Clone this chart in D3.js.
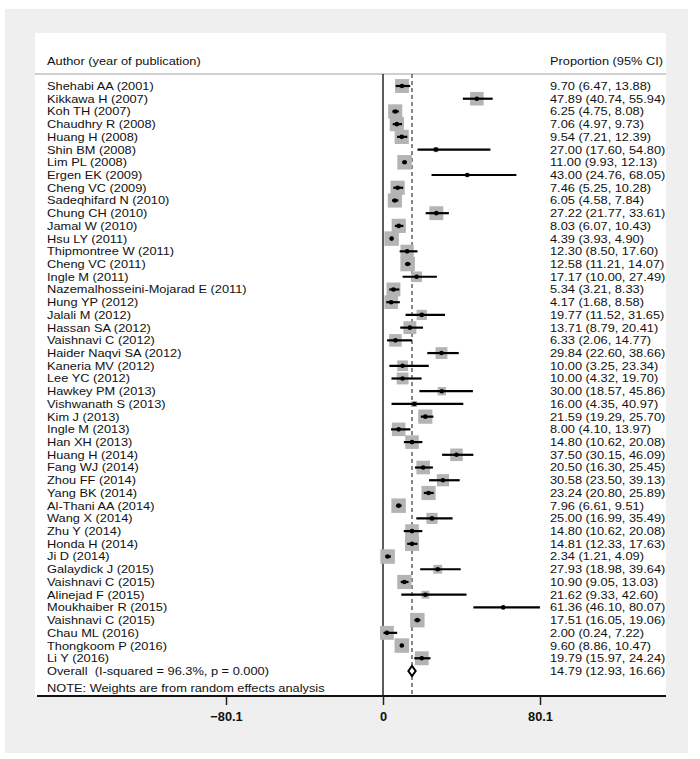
<!DOCTYPE html>
<html><head><meta charset="utf-8">
<script src="https://cdn.jsdelivr.net/npm/d3@7/dist/d3.min.js"></script>
<style>
html,body{margin:0;padding:0;background:#fff;}
svg{display:block;font-family:"Liberation Sans",Arial,Helvetica,sans-serif;}
text{white-space:pre;}
</style></head>
<body>
<svg id="chart" width="700" height="759"></svg>
<script>
const studies = ["Shehabi AA (2001)","Kikkawa H (2007)","Koh TH (2007)","Chaudhry R (2008)","Huang H (2008)","Shin BM (2008)","Lim PL (2008)","Ergen EK (2009)","Cheng VC (2009)","Sadeqhifard N (2010)","Chung CH (2010)","Jamal W (2010)","Hsu LY (2011)","Thipmontree W (2011)","Cheng VC (2011)","Ingle M (2011)","Nazemalhosseini-Mojarad E (2011)","Hung YP (2012)","Jalali M (2012)","Hassan SA (2012)","Vaishnavi C (2012)","Haider Naqvi SA (2012)","Kaneria MV (2012)","Lee YC (2012)","Hawkey PM (2013)","Vishwanath S (2013)","Kim J (2013)","Ingle M (2013)","Han XH (2013)","Huang H (2014)","Fang WJ (2014)","Zhou FF (2014)","Yang BK (2014)","Al-Thani AA (2014)","Wang X (2014)","Zhu Y (2014)","Honda H (2014)","Ji D (2014)","Galaydick J (2015)","Vaishnavi C (2015)","Alinejad F (2015)","Moukhaiber R (2015)","Vaishnavi C (2015)","Chau ML (2016)","Thongkoom P (2016)","Li Y (2016)"];
const estimate = [9.70,47.89,6.25,7.06,9.54,27.00,11.00,43.00,7.46,6.05,27.22,8.03,4.39,12.30,12.58,17.17,5.34,4.17,19.77,13.71,6.33,29.84,10.00,10.00,30.00,16.00,21.59,8.00,14.80,37.50,20.50,30.58,23.24,7.96,25.00,14.80,14.81,2.34,27.93,10.90,21.62,61.36,17.51,2.00,9.60,19.79];
const lower = [6.47,40.74,4.75,4.97,7.21,17.60,9.93,24.76,5.25,4.58,21.77,6.07,3.93,8.50,11.21,10.00,3.21,1.68,11.52,8.79,2.06,22.60,3.25,4.32,18.57,4.35,19.29,4.10,10.62,30.15,16.30,23.50,20.80,6.61,16.99,10.62,12.33,1.21,18.98,9.05,9.33,46.10,16.05,0.24,8.86,15.97];
const upper = [13.88,55.94,8.08,9.73,12.39,54.80,12.13,68.05,10.28,7.84,33.61,10.43,4.90,17.60,14.07,27.49,8.33,8.58,31.65,20.41,14.77,38.66,23.34,19.70,45.86,40.97,25.70,13.97,20.08,46.09,25.45,39.13,25.89,9.51,35.49,20.08,17.63,4.09,39.64,13.03,42.60,80.07,19.06,7.22,10.47,24.24];
// estimated random-effects weights (%)
const weights = [2.2,2.1,2.3,2.3,2.3,0.3,2.4,0.2,2.3,2.3,2.2,2.3,2.4,2.0,2.4,1.3,2.2,2.1,1.2,1.9,1.8,1.6,1.3,1.6,0.8,0.4,2.3,2.1,2.1,1.8,2.1,1.7,2.3,2.4,1.4,2.1,2.3,2.4,0.9,2.3,0.7,0.1,2.4,2.2,2.4,2.2];
const overallLabel = "Overall  (I-squared = 96.3%, p = 0.000)";
const overall = {est:14.79, lo:12.93, hi:16.66};
const tickValues = [-80.1, 0, 80.1];
const noteText = "NOTE: Weights are from random effects analysis";
const headerLeft = "Author (year of publication)";
const headerRight = "Proportion (95% CI)";

const fmt = d3.format(".2f");
const svg = d3.select("#chart");
const FS = 11.3;          // font size (px) fitting the row pitch
const STRETCH = 12.8/11.3; // horizontal widening to match reference text widths

function stretch(sel){
  sel.each(function(){
    const w = this.getComputedTextLength();
    this.setAttribute("textLength", (w*STRETCH).toFixed(2));
    this.setAttribute("lengthAdjust","spacingAndGlyphs");
  });
}

// panels
svg.append("rect").attr("x",5).attr("y",9).attr("width",683).attr("height",744).attr("fill","#efefef");
svg.append("rect").attr("x",35).attr("y",33).attr("width",631).attr("height",663).attr("fill","#fff");

const rows = studies.map((s,i)=>"r"+i).concat(["overall"]);
const y = d3.scalePoint().domain(rows).range([86, 671]);
const x = d3.scaleLinear().domain([-80.1, 80.1]).range([226, 540]);
const side = d3.scaleSqrt().domain([0, 2.4]).range([0, 14.5]);

const yTop = 74, yBottom = 696;

function label(xp, yp, txt){
  return svg.append("text").attr("x",xp).attr("y",yp).attr("dy","0.35em")
    .attr("font-size",FS+"px").attr("fill","#111").text(txt).call(stretch);
}

// header
label(47, 61, headerLeft);
label(550, 61, headerRight);
svg.append("line").attr("x1",35).attr("x2",666).attr("y1",yTop).attr("y2",yTop).attr("stroke","#cfcfcf").attr("stroke-width",2);

// reference lines
svg.append("line").attr("x1",x(0)).attr("x2",x(0)).attr("y1",yTop).attr("y2",yBottom).attr("stroke","#333").attr("stroke-width",1.6);
svg.append("line").attr("x1",x(overall.est)).attr("x2",x(overall.est)).attr("y1",yTop).attr("y2",yBottom)
  .attr("stroke","#555").attr("stroke-width",1.4).attr("stroke-dasharray","4,3");

const data = studies.map((s,i)=>({name:s, est:estimate[i], lo:lower[i], hi:upper[i], w:weights[i], key:"r"+i}));

const g = svg.append("g");
const row = g.selectAll("g.row").data(data).join("g").attr("class","row");
row.append("rect")
  .attr("x",d=>x(d.est)-side(d.w)/2).attr("y",d=>y(d.key)-side(d.w)/2)
  .attr("width",d=>side(d.w)).attr("height",d=>side(d.w)).attr("fill","#b4b4b4");
row.append("line").attr("x1",d=>x(d.lo)).attr("x2",d=>x(d.hi)).attr("y1",d=>y(d.key)).attr("y2",d=>y(d.key))
  .attr("stroke","#000").attr("stroke-width",2.2);
row.append("circle").attr("cx",d=>x(d.est)).attr("cy",d=>y(d.key)).attr("r",2.3).attr("fill","#000");
row.append("text").attr("x",47).attr("y",d=>y(d.key)).attr("dy","0.35em").attr("font-size",FS+"px").attr("fill","#111")
  .text(d=>d.name).call(stretch);
row.append("text").attr("x",550).attr("y",d=>y(d.key)).attr("dy","0.35em").attr("font-size",FS+"px").attr("fill","#111")
  .text(d=>`${fmt(d.est)} (${fmt(d.lo)}, ${fmt(d.hi)})`).call(stretch);

// overall
const oy = y("overall");
svg.append("path")
  .attr("d",`M${x(overall.lo)},${oy} L${x(overall.est)},${oy-5} L${x(overall.hi)},${oy} L${x(overall.est)},${oy+5} Z`)
  .attr("fill","#fff").attr("stroke","#000").attr("stroke-width",2);
label(47, oy, overallLabel);
label(550, oy, `${fmt(overall.est)} (${fmt(overall.lo)}, ${fmt(overall.hi)})`);

// note
label(47, 688, noteText);

// axis
svg.append("line").attr("x1",37).attr("x2",666).attr("y1",yBottom).attr("y2",yBottom).attr("stroke","#111").attr("stroke-width",2);
const axis = d3.axisBottom(x).tickValues(tickValues).tickFormat(d=>d===0?"0":d3.format(".1f")(d)).tickSize(9).tickPadding(7);
const ag = svg.append("g").attr("transform",`translate(0,${yBottom})`).call(axis);
ag.select(".domain").remove();
ag.selectAll(".tick line").attr("stroke","#222").attr("stroke-width",1.5);
ag.selectAll(".tick text").attr("font-size","12.8px").attr("font-weight","bold").attr("fill","#111")
  .attr("font-family","\"Liberation Sans\",Arial,sans-serif");
</script>
</body></html>
